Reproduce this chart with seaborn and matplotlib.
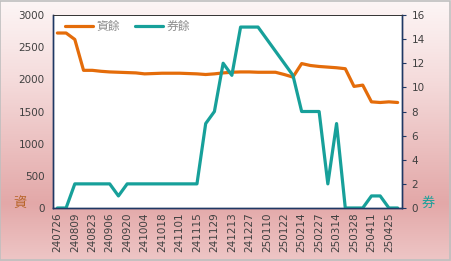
import numpy as np
import pandas as pd
import matplotlib
matplotlib.use("Agg")
import matplotlib.pyplot as plt
import seaborn as sns
from matplotlib.colors import LinearSegmentedColormap
from matplotlib.lines import Line2D

dates = ["240726", "240802", "240809", "240816", "240823", "240830", "240906", "240913",
         "240920", "240927", "241004", "241011", "241018", "241025", "241101", "241108",
         "241115", "241122", "241129", "241206", "241213", "241220", "241227", "250103",
         "250110", "250117", "250122", "250207", "250214", "250221", "250227", "250307",
         "250314", "250321", "250328", "250403", "250411", "250418", "250425", "250502"]
margin_bal = [2720, 2720, 2620, 2140, 2140, 2125, 2115, 2110, 2105, 2100,
              2085, 2090, 2095, 2095, 2095, 2090, 2085, 2075, 2085, 2100,
              2110, 2115, 2115, 2110, 2110, 2110, 2075, 2035, 2245, 2215,
              2200, 2190, 2180, 2165, 1890, 1910, 1650, 1640, 1650, 1640]
short_bal = [0, 0, 2, 2, 2, 2, 2, 1, 2, 2,
             2, 2, 2, 2, 2, 2, 2, 7, 8, 12,
             11, 15, 15, 15, 14, 13, 12, 11, 8, 8,
             8, 2, 7, 0, 0, 0, 1, 1, 0, 0]
left_ticks = [0, 500, 1000, 1500, 2000, 2500, 3000]
right_ticks = [0, 2, 4, 6, 8, 10, 12, 14, 16]

sns.set_style("white")
plt.rcParams['font.family'] = ['Noto Sans CJK TC', 'DejaVu Sans']

ORANGE = "#E46C0A"
TEAL = "#17A09A"
NAVY = "#1F3864"
TXT = "#404040"

df = pd.DataFrame({"idx": np.arange(len(dates)), "date": dates,
                   "margin": margin_bal, "short": short_bal})

fig = plt.figure(figsize=(4.51, 2.61), dpi=100)

# background gradient
bg = fig.add_axes([0, 0, 1, 1], zorder=-10)
cmap = LinearSegmentedColormap.from_list("bg", [(0, "#fdf6f6"), (0.3, "#f5dcdc"), (0.78, "#e3a8a8"), (1.0, "#eec6c6")])
grad = np.linspace(0, 1, 256).reshape(-1, 1)
bg.imshow(grad, aspect="auto", cmap=cmap, extent=[0, 1, 0, 1], origin="upper")
bg.set_xlim(0, 1); bg.set_ylim(0, 1)
bg.axis("off")
bg.add_patch(plt.Rectangle((0.001, 0.002), 0.997, 0.995, fill=False, ec="#bfbfbf", lw=1.2,
                           transform=bg.transAxes))

ax = fig.add_axes([53/451, 1-208/261, (402-53)/451, (208-15)/261])
ax.set_facecolor("white")
sns.lineplot(data=df, x="idx", y="margin", ax=ax, color=ORANGE, lw=2.3, legend=False)
ax2 = ax.twinx()
sns.lineplot(data=df, x="idx", y="short", ax=ax2, color=TEAL, lw=2.3, legend=False)

ax.set_xlim(-0.5, len(dates) - 0.5)
ax.set_ylim(0, 3000)
ax2.set_ylim(0, 16)
ax.set_yticks(left_ticks)
ax2.set_yticks(right_ticks)
ax.set_xticks(df["idx"][::2])
ax.set_xticklabels(df["date"][::2], rotation=90, fontsize=7.5, color=TXT, family="DejaVu Sans")
ax.tick_params(axis="y", length=0, labelsize=7.5, labelcolor=TXT, pad=6)
ax.tick_params(axis="x", length=0, pad=3)
ax2.tick_params(axis="y", length=3, direction="out", color=NAVY, labelsize=7.5, labelcolor=TXT, pad=4)
for lab in ax.get_yticklabels() + ax2.get_yticklabels():
    lab.set_family("DejaVu Sans")
ax.set_xlabel(""); ax.set_ylabel(""); ax2.set_ylabel("")
for a in (ax, ax2):
    for s in a.spines.values():
        s.set_color(NAVY)
        s.set_linewidth(1.0)
    a.spines["top"].set_color("#333333")
    a.spines["top"].set_linewidth(0.6)

fig.text(20/451, 1-203/261, "資", color="#B8652A", fontsize=9.5, ha="center", va="center")
fig.text(428/451, 1-203/261, "券", color=TEAL, fontsize=9.5, ha="center", va="center")

handles = [Line2D([0], [0], color=ORANGE, lw=2.3), Line2D([0], [0], color=TEAL, lw=2.3)]
leg = ax.legend(handles, ["資餘", "券餘"], loc="upper left", bbox_to_anchor=(12/349, 1 - 5/193), ncol=2,
                frameon=False, fontsize=8.5, handlelength=2.4, columnspacing=1.2, handletextpad=0.3,
                borderaxespad=0, borderpad=0)
for t in leg.get_texts():
    t.set_color("#8c8c8c")
leg.set_zorder(5)

fig.savefig("out.png", dpi=100)
